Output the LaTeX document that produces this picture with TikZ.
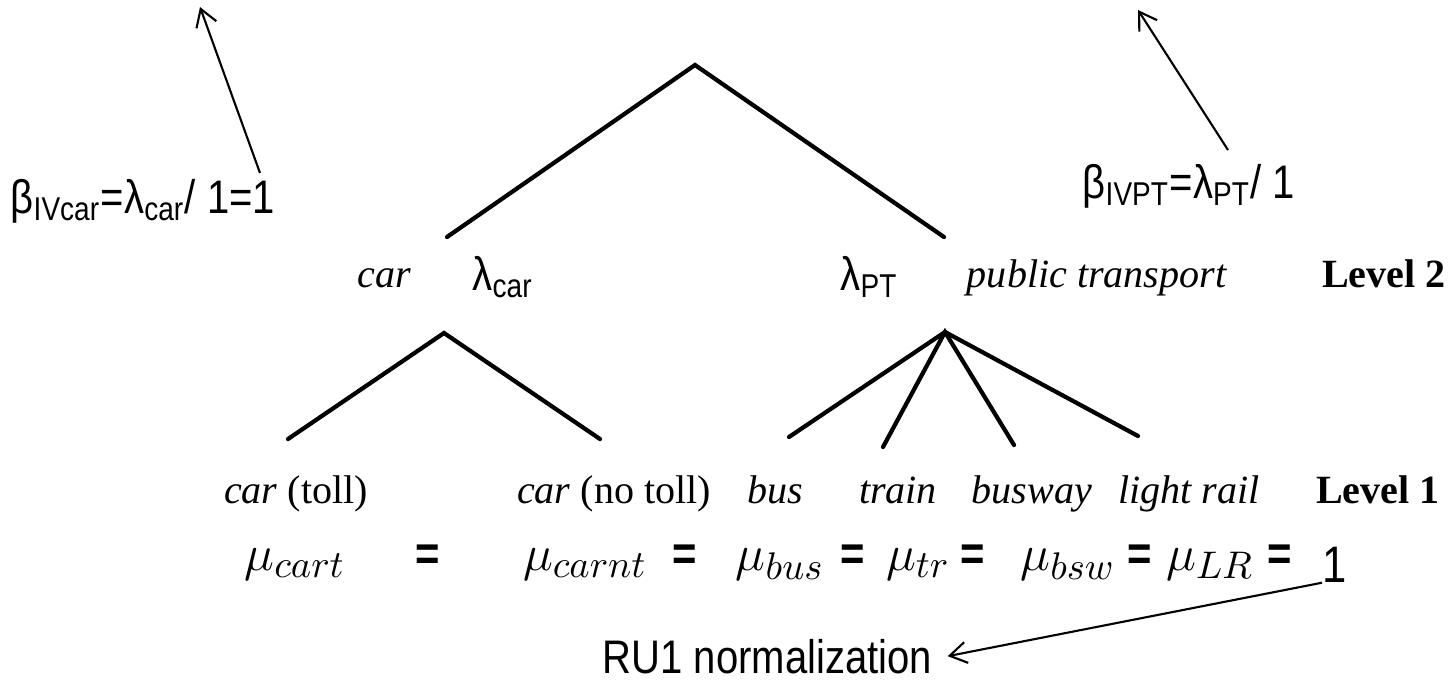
\documentclass[tikz,border=0pt]{standalone}
\usepackage{fontspec}
\setmainfont{Liberation Serif}
\newfontfamily\narrowsf[FakeStretch=0.85]{Liberation Sans}
\usepackage{tikz}
\usetikzlibrary{arrows.meta}
\tikzset{
  branch/.style={very thick, line cap=round},
  pointer/.style={semithick, -{Straight Barb[length=4.8pt,width=6pt]}},
  alt/.style={anchor=base, inner sep=0pt, font=\fontsize{11.4}{13}\selectfont},
  lvl/.style={anchor=base, inner sep=0pt, font=\fontsize{11.4}{13}\selectfont\bfseries},
  coef/.style={anchor=base west, inner sep=0pt, font=\fontsize{13.4}{15}\selectfont\narrowsf},
  scl/.style={anchor=base, inner sep=0pt, font=\fontsize{15.8}{18}\selectfont},
  eq/.style={anchor=base, inner sep=0pt, font=\fontsize{14}{16}\selectfont\narrowsf\bfseries},
}

\begin{document}
\begin{tikzpicture}
            \useasboundingbox (0.00, 0.00) rectangle (14.49,-6.86);
            % Tree points
            \coordinate (root)   at ( 6.95,-0.65);
            \coordinate (carend) at ( 4.47,-2.37);
            \coordinate (ptend)  at ( 9.44,-2.37);
            \coordinate (carnest) at ( 4.44,-3.33);
            \coordinate (toll)   at ( 2.88,-4.39);
            \coordinate (notoll) at ( 6.00,-4.39);
            \coordinate (ptnest) at ( 9.45,-3.32);
            \coordinate (bus)    at ( 7.89,-4.37);
            \coordinate (train)  at ( 8.83,-4.47);
            \coordinate (busway) at (10.14,-4.45);
            \coordinate (lrail)  at (11.38,-4.36);
            % Upper nest
            \draw[branch] (carend) -- (root) -- (ptend);
            % Car nest
            \draw[branch] (toll) -- (carnest) -- (notoll);
            % Public transport nest
            \draw[branch] (bus) -- (ptnest) -- (lrail);
            \draw[branch] (train) -- (ptnest) -- (busway);
            % Level 2 labels
            \node[alt] (lcar)  at ( 3.84,-2.87) {\textit{car}};
            \node[coef] (lamcar) at ( 4.72,-2.90) {λ\textsubscript{car}};
            \node[coef] (lampt)  at ( 8.40,-2.90) {λ\textsubscript{PT}};
            \node[alt] (lpt)   at (10.97,-2.87) {\textit{public transport}};
            \node[lvl] (lvltwo) at (13.84,-2.87) {Level 2};
            % Level 1 labels
            \node[alt] (ltoll)   at ( 2.96,-5.03) {\textit{car} (toll)};
            \node[alt] (lnotoll) at ( 6.14,-5.03) {\textit{car} (no toll)};
            \node[alt] (lbus)    at ( 7.75,-5.03) {\textit{bus}};
            \node[alt] (ltrain)  at ( 8.98,-5.03) {\textit{train}};
            \node[alt] (lbusway) at (10.32,-5.03) {\textit{busway}};
            \node[alt] (llrail)  at (11.89,-5.03) {\textit{light rail}};
            \node[lvl] (lvlone)  at (13.78,-5.03) {Level 1};
            % Scale parameters
            \node[scl] (mucart)  at ( 2.95,-5.70) {$\mu_{cart}$};
            \node[eq]  (eqa)     at ( 4.28,-5.70) {=};
            \node[scl] (mucarnt) at ( 5.85,-5.70) {$\mu_{carnt}$};
            \node[eq]  (eqb)     at ( 6.85,-5.70) {=};
            \node[scl] (mubus)   at ( 7.80,-5.70) {$\mu_{bus}$};
            \node[eq]  (eqc)     at ( 8.53,-5.70) {=};
            \node[scl] (mutr)    at ( 9.18,-5.70) {$\mu_{tr}$};
            \node[eq]  (eqd)     at ( 9.73,-5.70) {=};
            \node[scl] (mubsw)   at (10.68,-5.70) {$\mu_{bsw}$};
            \node[eq]  (eqe)     at (11.40,-5.70) {=};
            \node[scl] (mulr)    at (12.10,-5.70) {$\mu_{LR}$};
            \node[eq]  (eqf)     at (12.80,-5.70) {=};
            \node[coef, font=\fontsize{14.6}{16}\selectfont\narrowsf] (one) at (13.22,-5.82) {1};
            % Normalization notes
            \node[coef] (ru1)    at ( 6.02,-6.73) {RU1 normalization};
            \node[coef] (bcar)   at ( 0.10,-2.13) {β\textsubscript{IVcar}=λ\textsubscript{car}/ 1=1};
            \node[coef] (bpt)    at (10.82,-1.98) {β\textsubscript{IVPT}=λ\textsubscript{PT}/ 1};
            \coordinate (tailcar) at ( 2.60,-1.73);
            \coordinate (tipcar)  at ( 2.00,-0.07);
            \coordinate (tailpt)  at (12.28,-1.50);
            \coordinate (tippt)   at (11.38,-0.10);
            \draw[pointer] (tailcar) -- (tipcar);
            \draw[pointer] (tailpt) -- (tippt);
            \draw[pointer] (one.south west) -- ([xshift=0.15cm]ru1.east);
        \end{tikzpicture}
\end{document}
